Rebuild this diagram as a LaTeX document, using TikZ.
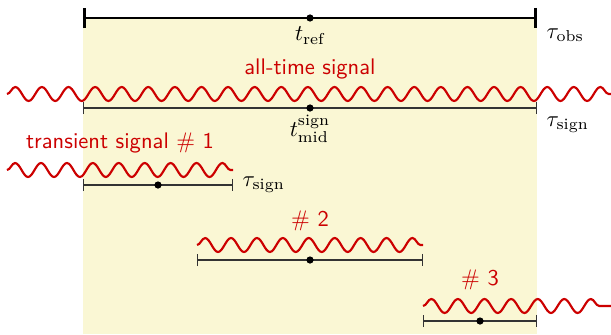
\documentclass[tikz,border=0pt]{standalone}
\usepackage{amsmath,amssymb}
\usepackage{xcolor}
\usepackage{tikz}
\usetikzlibrary{positioning,arrows.meta,decorations.pathmorphing,calc}
\definecolor{sigred}{RGB}{204,0,0}
\definecolor{obsfill}{RGB}{250,247,212}
\tikzset{
  wave/.style={draw=sigred, line width=0.95pt, decorate,
    decoration={snake, amplitude=3.1pt, segment length=11.8pt}},
  shortwave/.style={wave, decoration={segment length=11.5pt}},
  every node/.style={anchor=center}
}

\begin{document}
\begin{tikzpicture}[
  x=0.0156cm, y=-0.0156cm,
  obsbar/.style={{Bar[width=9pt]}-{Bar[width=9pt]}, line width=1.3pt, draw=black},
  signbar/.style={{Bar[width=5.5pt]}-{Bar[width=5.5pt]}, line width=0.6pt, draw=black!80},
  dot/.style={circle, fill=black, inner sep=0pt, minimum size=3.2pt},
  siglabel/.style={text=sigred, font=\sffamily},
  tlabel/.style={inner sep=1pt}
]
\useasboundingbox (0,0) rectangle (611,334);
\fill[obsfill] (83,18) rectangle (537,334);

% observation window
\coordinate (obsL) at (83,18);
\coordinate (obsR) at (537,18);
\draw[obsbar] (obsL) -- (obsR);
\node[dot] (tref) at (310,18) {};
\node[tlabel, below=1pt of tref] (treflab) {$t_{\text{ref}}$};
\node[tlabel, anchor=west] (tauobs) at (544,35) {$\tau_{\text{obs}}$};

% all-time signal
\coordinate (allS) at (7,94);
\coordinate (allE) at (611,94);
\draw[wave] (allS) -- (allE);
\node[siglabel] (alllab) at (310,69) {all-time signal};
\coordinate (allL) at (83,108);
\coordinate (allR) at (537,108);
\draw[signbar] (allL) -- (allR);
\node[dot] (tmid) at (310,108) {};
\node[tlabel, below=0pt of tmid] (tmidlab) {$t^{\text{sign}}_{\text{mid}}$};
\node[tlabel, anchor=west] (tausign) at (544,125) {$\tau_{\text{sign}}$};

% transient signal #1
\node[siglabel] (onelab) at (120,143) {transient signal \# 1};
\coordinate (oneS) at (7,170);
\coordinate (oneE) at (233,170);
\draw[shortwave] (oneS) -- (oneE);
\coordinate (oneL) at (83,185);
\coordinate (oneR) at (233,185);
\draw[signbar] (oneL) -- (oneR);
\node[dot] (onemid) at (158,185) {};
\node[tlabel, anchor=west] (tauone) at (240,185) {$\tau_{\text{sign}}$};

% transient signal #2
\node[siglabel] (twolab) at (310,221) {\# 2};
\coordinate (twoS) at (197,245);
\coordinate (twoE) at (423,245);
\draw[shortwave] (twoS) -- (twoE);
\coordinate (twoL) at (197,260);
\coordinate (twoR) at (423,260);
\draw[signbar] (twoL) -- (twoR);
\node[dot] (twomid) at (310,260) {};

% transient signal #3
\node[siglabel] (threelab) at (480,280) {\# 3};
\coordinate (threeS) at (423,306);
\coordinate (threeE) at (611,306);
\draw[wave] (threeS) -- (threeE);
\coordinate (threeL) at (423,321);
\coordinate (threeR) at (537,321);
\draw[signbar] (threeL) -- (threeR);
\node[dot] (threemid) at (480,321) {};
\end{tikzpicture}
\end{document}
